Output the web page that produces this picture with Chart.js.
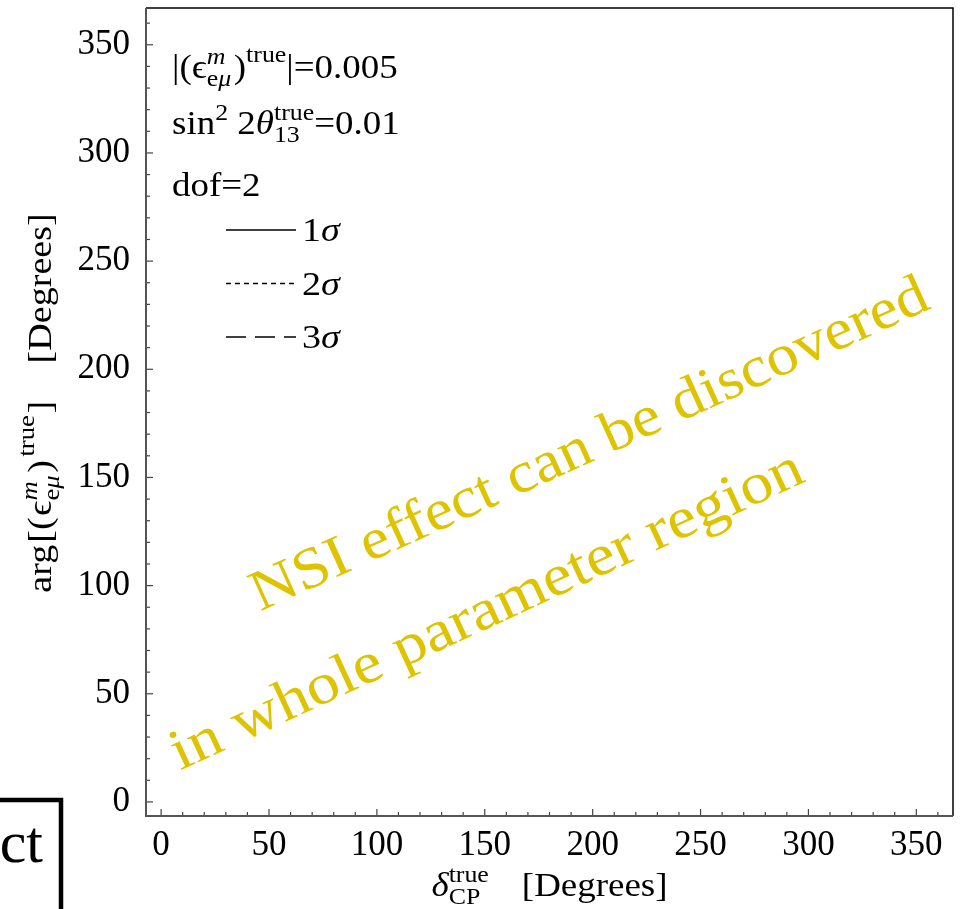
<!DOCTYPE html>
<html lang="en">
<head>
<meta charset="UTF-8">
<title>NSI discovery region</title>
<script src="https://cdn.jsdelivr.net/npm/chart.js@4.4.0/dist/chart.umd.min.js"></script>
<style>
  *{margin:0;padding:0;box-sizing:border-box;}
  body{background:#fff;width:962px;height:909px;overflow:hidden;}
  #box{width:962px;height:909px;}
</style>
</head>
<body>
<div id="box"><canvas id="c" width="962" height="909"></canvas></div>
<script>
// axis ranges (degrees)
const xRange = [-7, 367];
const yRange = [-6.5, 367];
const tickStep = 10;   // minor ticks
const labelStep = 50;  // labelled ticks
// contour levels shown in the key (no contour falls inside the plot)
const sigmaLabels = ['1σ', '2σ', '3σ'];
const sigmaDash = [[], [5, 4], [20, 9]];
// yellow note, baseline start / end of each line in data units
const message = ['NSI effect can be discovered', 'in whole parameter region'];
const messageStart = [[46, 88], [8.8, 14.5]];
const messageEnd = [[357.4, 228.4], [299.5, 148.5]];

const SERIF = '"Liberation Serif","Times New Roman","DejaVu Serif",serif';
const YELLOW = '#dec400';
const HS = 1.12; // the original typesetting runs wider than Liberation Serif

function font(sz, it){ return (it ? 'italic ' : '') + sz + 'px ' + SERIF; }
function sup(t, it, dy){ return {t: t, it: it, s: .7, dy: dy || -.42}; }
function sub(t, it){ return {t: t, it: it, s: .7, dy: .24}; }

// rich text = list of pieces {t,it,s,dy}, {g: em gap} or {stack:[pieces,pieces]}
function measure(ctx, parts, sz){
    let w = 0;
    parts.forEach(p => {
        if(p.stack){ w += Math.max(...p.stack.map(q => measure(ctx, q, sz))); }
        else if(p.g){ w += p.g * sz; }
        else { ctx.font = font(sz * (p.s || 1), p.it); w += ctx.measureText(p.t).width * HS; }
    });
    return w;
}
function drawRich(ctx, parts, x, y, sz){
    parts.forEach(p => {
        if(p.stack){
            const ws = p.stack.map(q => { drawRich(ctx, q, x, y, sz); return measure(ctx, q, sz); });
            x += Math.max(...ws);
        } else if(p.g){
            x += p.g * sz;
        } else {
            ctx.font = font(sz * (p.s || 1), p.it);
            ctx.save();
            ctx.translate(x, y + (p.dy || 0) * sz); ctx.scale(HS, 1);
            ctx.fillText(p.t, 0, 0);
            ctx.restore();
            x += ctx.measureText(p.t).width * HS;
        }
    });
    return x;
}

const epsMu = [{t:'ϵ'}, {stack:[[sup('m', true)], [sub('e'), sub('μ', true)]]}, {g:.08}];
const keyRows = [
    [{t:'|('}].concat(epsMu, [{t:')'}, sup('true', false, -.5), {t:'|=0.005'}]),
    [{t:'sin'}, sup('2'), {t:' 2'}, {t:'θ', it:true}, {stack:[[sup('true')], [sub('13')]]}, {t:'=0.01'}],
    [{t:'dof=2'}]
];
const keyBase = [78, 134, 196];
const xTitle = [{t:'δ', it:true}, {stack:[[sup('true')], [sub('CP')]]}, {g:1}, {t:'[Degrees]'}];
const yTitle = [{t:'arg'}, {g:.06}, {t:'[('}, {g:.04}].concat(epsMu,
    [{t:')'}, {g:.1}, sup('true', false, -.5), {g:.05}, {t:']'}, {g:1.1}, {t:'[Degrees]'}]);

const framePlugin = {
    id: 'frame',
    afterDraw(chart){
        const ctx = chart.ctx, a = chart.chartArea;
        const sx = chart.scales.x, sy = chart.scales.y;
        ctx.save();
        // inward tick marks
        ctx.strokeStyle = '#444'; ctx.lineWidth = 1.2;
        sx.ticks.forEach(t => {
            const len = t.value % labelStep === 0 ? 7 : 4, p = sx.getPixelForValue(t.value);
            ctx.beginPath(); ctx.moveTo(p, a.bottom); ctx.lineTo(p, a.bottom - len); ctx.stroke();
        });
        sy.ticks.forEach(t => {
            const len = t.value % labelStep === 0 ? 7 : 4, p = sy.getPixelForValue(t.value);
            ctx.beginPath(); ctx.moveTo(a.left, p); ctx.lineTo(a.left + len, p); ctx.stroke();
        });
        // frame
        ctx.strokeStyle = '#000'; ctx.lineWidth = 1.5;
        ctx.beginPath(); ctx.moveTo(a.left, a.top); ctx.lineTo(a.right, a.top); ctx.lineTo(a.right, a.bottom); ctx.stroke();
        ctx.strokeStyle = '#555'; ctx.lineWidth = 2;
        ctx.beginPath(); ctx.moveTo(a.left, a.top); ctx.lineTo(a.left, a.bottom); ctx.lineTo(a.right, a.bottom); ctx.stroke();

        // parameter text and key
        ctx.fillStyle = '#000'; ctx.textBaseline = 'alphabetic'; ctx.textAlign = 'left';
        keyRows.forEach((r, i) => drawRich(ctx, r, 172, keyBase[i], 33));
        chart.data.datasets.forEach((d, i) => {
            const ly = 230 + i * 53.5;
            ctx.strokeStyle = '#000'; ctx.lineWidth = 1.3; ctx.setLineDash(d.borderDash);
            ctx.beginPath(); ctx.moveTo(226, ly); ctx.lineTo(296, ly); ctx.stroke();
            ctx.setLineDash([]);
            drawRich(ctx, [{t:d.label.slice(0, -1)}, {t:d.label.slice(-1), it:true}], 302, ly + 11, 34);
        });

        // axis titles
        const xw = measure(ctx, xTitle, 33);
        drawRich(ctx, xTitle, (a.left + a.right) / 2 - xw / 2, 896, 33);
        ctx.save();
        ctx.translate(51, 403); ctx.rotate(-Math.PI / 2);
        const yw = measure(ctx, yTitle, 34);
        drawRich(ctx, yTitle, -yw / 2, 0, 34);
        ctx.restore();

        // yellow note
        ctx.fillStyle = YELLOW;
        message.forEach((m, i) => {
            const x0 = sx.getPixelForValue(messageStart[i][0]), y0 = sy.getPixelForValue(messageStart[i][1]);
            const x1 = sx.getPixelForValue(messageEnd[i][0]), y1 = sy.getPixelForValue(messageEnd[i][1]);
            const len = Math.hypot(x1 - x0, y1 - y0);
            ctx.save();
            ctx.translate(x0, y0); ctx.rotate(Math.atan2(y1 - y0, x1 - x0));
            ctx.font = font(58);
            const k = len / ctx.measureText(m).width;
            ctx.scale(k, 1);
            ctx.fillText(m, 0, 0);
            ctx.restore();
        });

        // clipped box at lower left
        ctx.strokeStyle = '#000'; ctx.lineWidth = 4.5;
        ctx.strokeRect(-60, 800, 121, 200);
        ctx.fillStyle = '#000'; ctx.textAlign = 'right';
        ctx.font = font(60);
        ctx.fillText('ct', 43, 862);
        ctx.restore();
    }
};

function squareUp(s, size, prop){
    s[prop] = size;
    s.paddingTop = 0; s.paddingBottom = 0; s.paddingLeft = 0; s.paddingRight = 0;
}

const chart = new Chart(document.getElementById('c'), {
    type: 'scatter',
    data: {
        datasets: sigmaLabels.map((l, i) => ({
            label: l, data: [], showLine: true, pointRadius: 0,
            borderColor: '#000', borderWidth: 1.3, borderDash: sigmaDash[i]
        }))
    },
    options: {
        responsive: false,
        animation: false,
        layout: {padding: {top: 8, right: 9, left: 0, bottom: 0}},
        plugins: {legend: {display: false}, tooltip: {enabled: false}},
        scales: {
            x: {
                type: 'linear', min: xRange[0], max: xRange[1],
                grid: {display: false, drawTicks: false}, border: {display: false},
                ticks: {stepSize: tickStep, includeBounds: false, autoSkip: false, maxRotation: 0,
                    padding: 9, color: '#000', font: {family: SERIF, size: 35},
                    callback: v => v % labelStep === 0 ? v : ''},
                afterFit: s => squareUp(s, 93, 'height')
            },
            y: {
                type: 'linear', min: yRange[0], max: yRange[1],
                grid: {display: false, drawTicks: false}, border: {display: false},
                ticks: {stepSize: tickStep, includeBounds: false, autoSkip: false,
                    padding: 16, color: '#000', font: {family: SERIF, size: 35},
                    callback: v => v % labelStep === 0 ? v : ''},
                afterFit: s => squareUp(s, 146, 'width')
            }
        }
    },
    plugins: [framePlugin]
});
</script>
</body>
</html>
